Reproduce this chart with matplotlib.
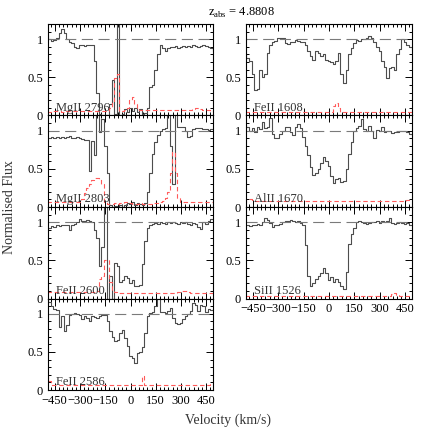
"""Velocity stack of metal absorption lines at z_abs = 4.8808."""

import matplotlib

matplotlib.use("Agg")
import matplotlib.pyplot as plt
from matplotlib.ticker import FuncFormatter, MultipleLocator

plt.rcParams["font.family"] = ["Liberation Serif", "DejaVu Serif"]
plt.rcParams["mathtext.fontset"] = "custom"
plt.rcParams["mathtext.rm"] = "Liberation Serif"

VELOCITY = [
    -495, -480, -465, -450, -435, -420, -405, -390, -375, -360, -345, -330,
    -315, -300, -285, -270, -255, -240, -225, -210, -195, -180, -165, -150,
    -135, -120, -105, -90, -75, -60, -45, -30, -15, 0, 15, 30, 45, 60, 75, 90,
    105, 120, 135, 150, 165, 180, 195, 210, 225, 240, 255, 270, 285, 300, 315,
    330, 345, 360, 375, 390, 405, 420, 435, 450, 465, 480, 495,
]

# normalised flux per line, one value per velocity bin
MGII_2796 = [
    1.05, 1.00, 0.98, 0.99, 1.02, 1.08, 1.13, 1.08, 1.00, 0.97, 0.95, 0.90,
    0.88, 0.92, 0.93, 0.91, 0.93, 0.93, 0.92, 0.72, 0.30, 0.02, 0.00, 0.01,
    0.00, 0.15, 0.47, 0.02, 2.00, 0.00, 0.02, 0.08, 0.05, 0.10, 0.06, 0.10,
    0.04, 0.08, 0.02, 0.03, 0.10, 0.38, 0.40, 0.60, 0.80, 0.92, 0.88, 0.85,
    0.88, 0.90, 0.90, 0.91, 0.89, 0.90, 0.91, 0.90, 0.91, 0.90, 0.92, 0.91,
    0.90, 0.91, 0.92, 0.91, 0.90, 0.88, 0.85,
]
MGII_2796_ERR = [
    0.05, 0.05, 0.05, 0.06, 0.06, 0.06, 0.05, 0.05, 0.06, 0.06, 0.06, 0.06,
    0.06, 0.06, 0.06, 0.06, 0.06, 0.06, 0.06, 0.06, 0.06, 0.06, 0.06, 0.06,
    0.06, 0.10, 0.19, 0.49, 0.55, 0.06, 0.06, 0.07, 0.10, 0.20, 0.24, 0.15,
    0.08, 0.07, 0.07, 0.07, 0.07, 0.07, 0.07, 0.07, 0.07, 0.07, 0.07, 0.07,
    0.07, 0.07, 0.07, 0.07, 0.07, 0.07, 0.07, 0.07, 0.07, 0.07, 0.08, 0.10,
    0.10, 0.08, 0.07, 0.07, 0.07, 0.06, 0.06,
]

MGII_2803 = [
    0.90, 0.91, 0.92, 0.91, 0.92, 0.91, 0.92, 0.91, 0.92, 0.93, 0.90, 0.91,
    0.92, 0.90, 0.89, 0.88, 0.88, 0.47, 0.86, 0.68, 1.60, 0.98, 1.15, 0.80,
    0.45, 0.03, 0.00, 0.01, 0.00, 0.02, 0.00, 0.03, 0.05, 0.04, 0.06, 0.03,
    0.05, 0.04, 0.02, 0.05, 0.20, 0.45, 0.70, 0.85, 0.95, 1.00, 1.02, 1.03,
    1.60, 0.80, 0.30, 1.60, 1.05, 1.05, 1.05, 1.00, 0.92, 0.93, 1.02, 1.03,
    1.04, 1.03, 1.02, 1.02, 1.01, 1.02, 1.01,
]
MGII_2803_ERR = [
    0.06, 0.06, 0.06, 0.06, 0.06, 0.06, 0.06, 0.06, 0.06, 0.06, 0.06, 0.06,
    0.06, 0.07, 0.10, 0.18, 0.25, 0.30, 0.36, 0.38, 0.38, 0.37, 0.30, 0.06,
    0.04, 0.04, 0.04, 0.05, 0.04, 0.05, 0.05, 0.07, 0.07, 0.05, 0.04, 0.04,
    0.04, 0.05, 0.04, 0.04, 0.04, 0.04, 0.05, 0.05, 0.05, 0.06, 0.08, 0.12,
    0.20, 0.45, 0.72, 0.45, 0.12, 0.07, 0.06, 0.06, 0.06, 0.06, 0.06, 0.06,
    0.06, 0.06, 0.06, 0.06, 0.06, 0.06, 0.06,
]

FEII_2600 = [
    0.90, 0.93, 0.95, 0.94, 0.96, 0.95, 0.97, 0.96, 0.97, 0.90, 0.97, 0.98,
    1.00, 1.04, 1.02, 1.02, 1.03, 1.02, 1.00, 0.90, 0.80, 0.43, 0.68, 1.60,
    0.00, 0.30, 0.00, 0.47, 0.43, 0.21, 0.24, 0.30, 0.27, 0.20, 0.24, 0.17,
    0.16, 0.18, 0.45, 0.75, 0.92, 0.97, 0.98, 0.99, 0.98, 1.00, 0.99, 0.98,
    1.00, 0.99, 1.00, 0.99, 0.98, 1.00, 0.99, 1.00, 0.98, 0.97, 0.99, 0.98,
    0.94, 0.91, 1.00, 0.98, 1.02, 1.04, 1.02,
]
FEII_2600_ERR = [
    0.08, 0.08, 0.08, 0.08, 0.08, 0.08, 0.08, 0.08, 0.08, 0.08, 0.08, 0.08,
    0.08, 0.08, 0.08, 0.08, 0.08, 0.08, 0.08, 0.08, 0.10, 0.26, 0.30, 0.50,
    0.51, 0.21, 0.10, 0.08, 0.07, 0.07, 0.07, 0.07, 0.07, 0.07, 0.07, 0.07,
    0.07, 0.07, 0.07, 0.07, 0.07, 0.07, 0.07, 0.07, 0.07, 0.07, 0.07, 0.07,
    0.07, 0.07, 0.07, 0.07, 0.08, 0.09, 0.10, 0.10, 0.08, 0.07, 0.07, 0.07,
    0.07, 0.07, 0.07, 0.07, 0.07, 0.07, 0.07,
]

FEII_2586 = [
    1.20, 1.15, 1.10, 1.06, 1.05, 0.82, 0.97, 0.77, 0.85, 0.99, 1.00, 1.01,
    1.00, 0.98, 0.93, 0.97, 0.95, 0.90, 0.97, 0.96, 0.95, 0.97, 0.99, 0.98,
    0.90, 0.78, 0.70, 0.64, 0.65, 0.75, 0.79, 0.68, 0.58, 0.45, 0.42, 0.36,
    0.48, 0.50, 0.57, 0.75, 0.97, 1.01, 1.02, 1.10, 1.30, 1.02, 1.02, 1.01,
    1.03, 1.08, 0.95, 0.88, 0.87, 0.88, 0.93, 0.97, 1.00, 1.03, 1.14, 1.12,
    1.04, 1.12, 1.10, 1.02, 1.06, 1.05, 1.06,
]
FEII_2586_ERR = [
    0.20, 0.12, 0.07, 0.06, 0.06, 0.06, 0.06, 0.06, 0.06, 0.06, 0.06, 0.06,
    0.06, 0.06, 0.06, 0.06, 0.06, 0.06, 0.06, 0.06, 0.06, 0.06, 0.06, 0.06,
    0.06, 0.06, 0.06, 0.06, 0.06, 0.06, 0.06, 0.06, 0.06, 0.06, 0.06, 0.06,
    0.06, 0.06, 0.18, 0.07, 0.06, 0.06, 0.06, 0.06, 0.06, 0.06, 0.06, 0.06,
    0.06, 0.06, 0.06, 0.06, 0.06, 0.06, 0.06, 0.06, 0.06, 0.06, 0.06, 0.07,
    0.07, 0.07, 0.07, 0.07, 0.07, 0.08, 0.11,
]

FEII_1608 = [
    0.82, 0.75, 0.72, 0.55, 0.33, 0.35, 0.60, 0.50, 0.55, 0.82, 0.93, 0.96,
    0.98, 1.01, 1.02, 1.01, 0.95, 0.94, 0.96, 0.97, 0.99, 0.98, 0.97, 0.97,
    0.93, 0.85, 0.78, 0.73, 0.84, 0.82, 0.78, 0.80, 0.73, 0.72, 0.70, 0.68,
    0.72, 0.82, 0.55, 0.43, 0.60, 0.80, 0.88, 0.95, 0.99, 0.98, 1.00, 1.00,
    1.02, 1.04, 1.01, 0.96, 0.90, 0.85, 0.72, 0.64, 0.49, 0.62, 0.64, 0.60,
    0.80, 0.87, 1.00, 0.96, 0.92, 0.90, 0.86,
]
FEII_1608_ERR = [
    0.04, 0.04, 0.04, 0.04, 0.04, 0.04, 0.04, 0.04, 0.04, 0.04, 0.04, 0.04,
    0.04, 0.04, 0.04, 0.04, 0.04, 0.04, 0.04, 0.04, 0.04, 0.04, 0.04, 0.04,
    0.04, 0.04, 0.04, 0.04, 0.04, 0.04, 0.04, 0.04, 0.04, 0.04, 0.05, 0.12,
    0.17, 0.10, 0.04, 0.04, 0.04, 0.04, 0.04, 0.04, 0.04, 0.04, 0.04, 0.04,
    0.04, 0.04, 0.04, 0.04, 0.04, 0.04, 0.04, 0.04, 0.04, 0.04, 0.04, 0.04,
    0.04, 0.04, 0.04, 0.04, 0.04, 0.04, 0.04,
]

ALII_1670 = [
    1.07, 1.05, 1.00, 1.04, 0.99, 1.05, 1.02, 1.11, 1.03, 1.05, 1.17, 0.96,
    0.90, 0.91, 0.96, 1.00, 1.05, 1.05, 0.99, 0.95, 1.05, 1.09, 1.03, 0.92,
    0.80, 0.68, 0.52, 0.42, 0.45, 0.50, 0.58, 0.66, 0.60, 0.54, 0.41, 0.32,
    0.37, 0.38, 0.33, 0.34, 0.50, 0.70, 0.85, 1.00, 1.04, 1.06, 1.15, 1.02,
    1.00, 1.06, 1.00, 0.90, 1.01, 1.00, 1.05, 0.99, 1.00, 1.00, 0.97, 0.98,
    0.99, 1.00, 1.00, 1.00, 0.99, 0.96, 0.95,
]
ALII_1670_ERR = [
    0.07, 0.10, 0.11, 0.09, 0.08, 0.08, 0.08, 0.08, 0.08, 0.08, 0.08, 0.08,
    0.08, 0.08, 0.08, 0.08, 0.08, 0.08, 0.08, 0.08, 0.08, 0.08, 0.08, 0.08,
    0.08, 0.08, 0.08, 0.08, 0.08, 0.08, 0.08, 0.08, 0.08, 0.08, 0.08, 0.08,
    0.08, 0.08, 0.08, 0.08, 0.08, 0.08, 0.08, 0.08, 0.08, 0.08, 0.08, 0.08,
    0.08, 0.08, 0.08, 0.08, 0.08, 0.08, 0.08, 0.08, 0.08, 0.08, 0.08, 0.08,
    0.08, 0.08, 0.08, 0.08, 0.09, 0.09, 0.09,
]

SIII_1526 = [
    0.96, 0.96, 0.95, 0.96, 0.97, 0.98, 0.97, 1.00, 1.05, 1.03, 0.99, 0.94,
    0.96, 0.96, 0.98, 1.00, 1.02, 1.01, 1.03, 1.02, 1.00, 1.01, 0.99, 0.96,
    0.70, 0.30, 0.16, 0.20, 0.25, 0.30, 0.33, 0.40, 0.33, 0.24, 0.28, 0.22,
    0.25, 0.22, 0.16, 0.12, 0.35, 0.72, 0.85, 0.92, 1.00, 1.02, 1.00, 0.99,
    0.98, 0.99, 1.00, 1.00, 1.01, 0.99, 1.02, 1.00, 1.01, 1.05, 0.99, 0.98,
    0.99, 1.00, 0.99, 0.98, 0.99, 0.97, 0.96,
]
SIII_1526_ERR = [
    0.03, 0.03, 0.03, 0.03, 0.03, 0.03, 0.03, 0.03, 0.03, 0.03, 0.03, 0.03,
    0.03, 0.03, 0.03, 0.03, 0.03, 0.03, 0.03, 0.03, 0.03, 0.03, 0.03, 0.03,
    0.03, 0.03, 0.03, 0.03, 0.03, 0.03, 0.03, 0.03, 0.03, 0.03, 0.03, 0.03,
    0.03, 0.03, 0.03, 0.03, 0.03, 0.03, 0.03, 0.03, 0.03, 0.03, 0.03, 0.03,
    0.03, 0.03, 0.03, 0.03, 0.03, 0.03, 0.03, 0.03, 0.03, 0.03, 0.06, 0.07,
    0.05, 0.03, 0.03, 0.03, 0.03, 0.03, 0.03,
]

LEFT_PANELS = [
    ("MgII 2796", MGII_2796, MGII_2796_ERR),
    ("MgII 2803", MGII_2803, MGII_2803_ERR),
    ("FeII 2600", FEII_2600, FEII_2600_ERR),
    ("FeII 2586", FEII_2586, FEII_2586_ERR),
]
RIGHT_PANELS = [
    ("FeII 1608", FEII_1608, FEII_1608_ERR),
    ("AlII 1670", ALII_1670, ALII_1670_ERR),
    ("SiII 1526", SIII_1526, SIII_1526_ERR),
]

FLUX_COLOR = "#4d4d4d"
ERR_COLOR = "#ff5a5a"
CONT_COLOR = "#7a7a7a"


def _flux_label(v, _pos):
    return "0" if v == 0 else ("1" if v == 1 else f"{v:g}")


def draw_panel(ax, label, flux, err, show_xlabels):
    ax.step(VELOCITY, flux, where="mid", color=FLUX_COLOR, lw=0.8)
    ax.step(VELOCITY, err, where="mid", color=ERR_COLOR, lw=0.8,
            linestyle=(0, (4, 2.5)))
    ax.axhline(1.0, color=CONT_COLOR, lw=0.8, dashes=(10, 5))
    ax.set_xlim(-490, 490)
    ax.set_ylim(0, 1.2)
    ax.xaxis.set_major_locator(MultipleLocator(150))
    ax.xaxis.set_minor_locator(MultipleLocator(25))
    ax.yaxis.set_major_locator(MultipleLocator(0.5))
    ax.yaxis.set_minor_locator(MultipleLocator(0.1))
    ax.yaxis.set_major_formatter(FuncFormatter(_flux_label))
    ax.tick_params(which="both", direction="in", top=True, right=True,
                   labelsize=9, width=0.7)
    ax.tick_params(which="major", length=5)
    ax.tick_params(which="minor", length=2.5)
    if not show_xlabels:
        ax.tick_params(labelbottom=False)
    for spine in ax.spines.values():
        spine.set_linewidth(0.8)
    ax.text(0.05, 0.05, label, transform=ax.transAxes, fontsize=9,
            color="#333333")


def main():
    fig = plt.figure(figsize=(4.36, 4.36), dpi=100)
    top = 1 - 24 / 436
    height = 91.5 / 436

    for i, (label, flux, err) in enumerate(LEFT_PANELS):
        ax = fig.add_axes([48 / 436, top - (i + 1) * height, 165 / 436, height])
        draw_panel(ax, label, flux, err, show_xlabels=(i == len(LEFT_PANELS) - 1))

    for i, (label, flux, err) in enumerate(RIGHT_PANELS):
        ax = fig.add_axes([246 / 436, top - (i + 1) * height, 166 / 436, height])
        draw_panel(ax, label, flux, err, show_xlabels=(i == len(RIGHT_PANELS) - 1))

    fig.text(0.553, 0.970, r"z$_{\rm abs}$ = 4.8808", ha="center", va="center",
             fontsize=9)
    fig.text(0.022, 0.525, "Normalised Flux", rotation=90, ha="center",
             va="center", fontsize=10, color="#333333")
    fig.text(0.523, 0.037, "Velocity (km/s)", ha="center", va="center",
             fontsize=10, color="#333333")

    fig.savefig("out.png", dpi=100)
    plt.close(fig)


if __name__ == "__main__":
    main()
